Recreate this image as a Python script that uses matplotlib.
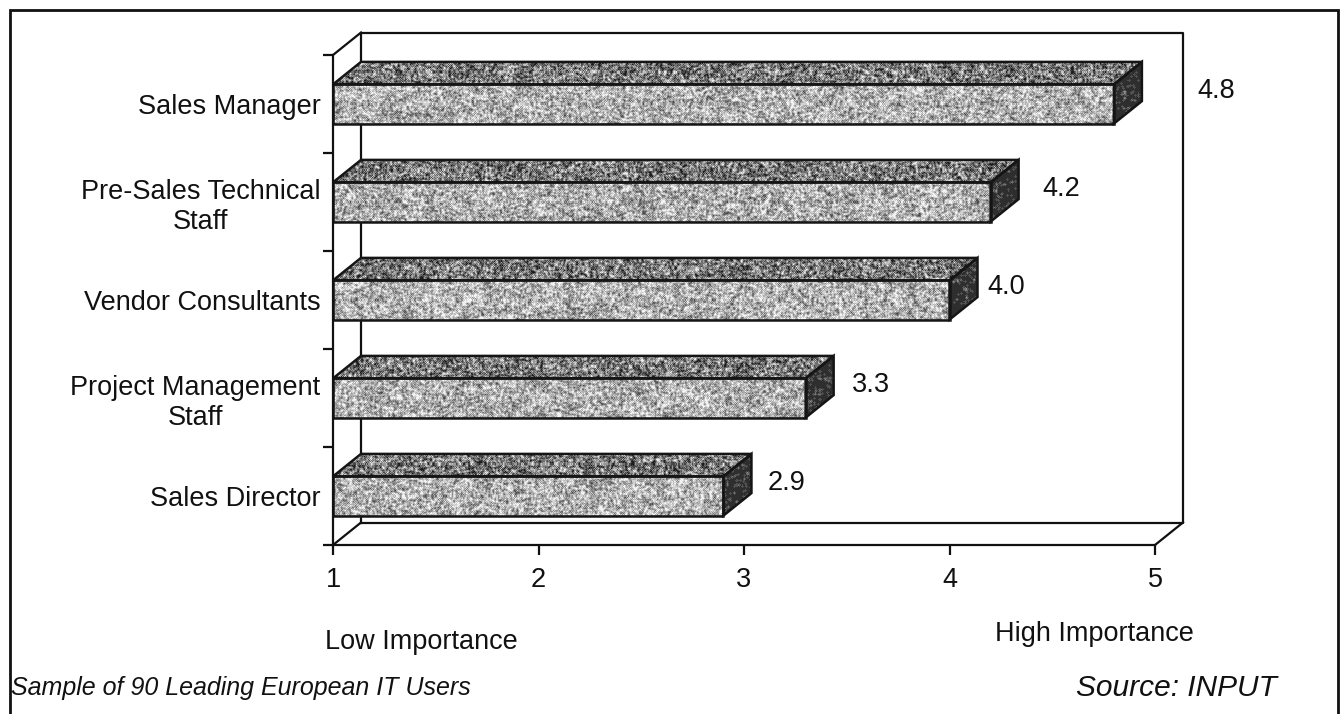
import numpy as np
import matplotlib
matplotlib.use("Agg")
import matplotlib.pyplot as plt
import matplotlib.transforms as mtransforms
from matplotlib.patches import Polygon, Rectangle
from matplotlib.lines import Line2D

# ---- data -------------------------------------------------------------
categories = [
    "Sales Director",
    "Project Management\nStaff",
    "Vendor Consultants",
    "Pre-Sales Technical\nStaff",
    "Sales Manager",
]
scores = [2.9, 3.3, 4.0, 4.2, 4.8]
x_ticks = [1, 2, 3, 4, 5]
low_label = "Low Importance"
high_label = "High Importance"
footnote = "Sample of 90 Leading European IT Users"
source = "Source: INPUT"

# ---- style ------------------------------------------------------------
W, H = 1342, 714
FONT = "Liberation Sans"
FS = 19.5
plt.rcParams["font.family"] = [FONT, "DejaVu Sans"]

# horizontal pixel offsets of the value labels from the bar front edge
label_pad_px = [44, 46, 38, 52, 83]


def fx(x):
    return x / W


def fy(y):
    return 1 - y / H


fig = plt.figure(figsize=(W / 100, H / 100), dpi=100)
fig.patch.set_facecolor("white")

# outer frame
fig.add_artist(Rectangle((fx(10), -0.01), fx(1338) - fx(10), fy(10) + 0.01,
                         transform=fig.transFigure, fill=False,
                         edgecolor="#111111", linewidth=2.0))

# front plane of the 3-D plot box
ax = fig.add_axes([fx(333), fy(545), (1155 - 333) / W, (545 - 55) / H])
ax.set_xlim(1, 5)
ax.set_ylim(0, 5)
ax.set_facecolor("none")

# depth of the plot box in data units
DX = 28 / 822 * 4
DY = 22.5 / 490 * 5
HALF = 0.2  # half height of a bar

rng = np.random.default_rng(7)


def smooth(a):
    out = a.copy()
    out[1:, :] += a[:-1, :]
    out[:, 1:] += a[:, :-1]
    out[:-1, :] += a[1:, :]
    out[:, :-1] += a[:, 1:]
    return out / 5.0


def stipple(rows, cols, darkness, lo, hi, blotch=0.12):
    coarse = rng.random((rows // 6 + 2, cols // 10 + 2))
    coarse = np.kron(coarse, np.ones((6, 10)))[:rows, :cols]
    coarse = smooth(smooth(coarse))
    p = darkness + blotch * (coarse - 0.5)
    dots = (rng.random((rows, cols)) > p).astype(float)
    img = lo + (hi - lo) * dots
    return smooth(img)


def textured(poly_xy, x0, x1, y0, y1, darkness, lo, hi, blotch=0.12):
    cols = max(int((x1 - x0) / 4 * 822), 4)
    rows = max(int((y1 - y0) / 5 * 490), 4)
    img = stipple(rows, cols, darkness, lo, hi, blotch)
    im = ax.imshow(img, extent=(x0, x1, y0, y1), origin="lower",
                   cmap="gray", vmin=0, vmax=1, aspect="auto",
                   interpolation="nearest", zorder=3)
    clip = Polygon(poly_xy, closed=True, transform=ax.transData)
    im.set_clip_path(clip)
    ax.add_patch(Polygon(poly_xy, closed=True, fill=False,
                         edgecolor="#151515", linewidth=1.8,
                         joinstyle="miter", zorder=4))


# box walls and floor
wall_kw = dict(color="#111111", linewidth=1.6, clip_on=False, zorder=1)
bx0, bx1 = 1 + DX, 5 + DX
by0, by1 = DY, 5 + DY
ax.add_line(Line2D([bx0, bx1, bx1, bx0, bx0], [by0, by0, by1, by1, by0], **wall_kw))
ax.add_line(Line2D([1, bx0], [0, by0], **wall_kw))
ax.add_line(Line2D([5, bx1], [0, by0], **wall_kw))
ax.add_line(Line2D([1, bx0], [5, by1], **wall_kw))

# bars
centers = np.arange(len(categories)) + 0.5
for c, v, pad in zip(centers, scores, label_pad_px):
    yb, yt = c - HALF, c + HALF
    front = [(1, yb), (v, yb), (v, yt), (1, yt)]
    top = [(1, yt), (v, yt), (v + DX, yt + DY), (1 + DX, yt + DY)]
    side = [(v, yb), (v + DX, yb + DY), (v + DX, yt + DY), (v, yt)]
    textured(top, 1, v + DX, yt, yt + DY, 0.55, 0.12, 0.92, 0.15)
    textured(side, v, v + DX, yb, yt + DY, 0.93, 0.18, 0.85, 0.05)
    textured(front, 1, v, yb, yt, 0.40, 0.30, 0.95, 0.25)
    shift = mtransforms.ScaledTranslation(pad / 100, 13 / 100, fig.dpi_scale_trans)
    ax.text(v, c, f"{v:.1f}", transform=ax.transData + shift, fontsize=FS,
            ha="left", va="center", color="#111111", zorder=6)

# axes lines and ticks
for side_name in ("top", "right"):
    ax.spines[side_name].set_visible(False)
for side_name in ("left", "bottom"):
    ax.spines[side_name].set_linewidth(1.6)
    ax.spines[side_name].set_color("#111111")
    ax.spines[side_name].set_zorder(5)

ax.set_xticks(x_ticks)
ax.set_xticklabels([str(t) for t in x_ticks])
ax.tick_params(axis="x", direction="out", length=7, width=1.6,
               pad=9, labelsize=FS, colors="#111111")

ax.set_yticks(np.arange(len(categories) + 1))
ax.set_yticklabels([])
ax.tick_params(axis="y", which="major", direction="out", length=7, width=1.6,
               colors="#111111")
ax.set_yticks(centers, minor=True)
ax.set_yticklabels(categories, minor=True)
ax.tick_params(axis="y", which="minor", length=0, pad=9, labelsize=FS,
               colors="#111111")
for lbl in ax.get_yticklabels(minor=True):
    lbl.set_multialignment("center")
    lbl.set_linespacing(1.2)

# captions
fig.text(fx(325), fy(642), low_label, fontsize=FS, ha="left", va="center",
         color="#111111")
fig.text(fx(995), fy(634), high_label, fontsize=FS, ha="left", va="center",
         color="#111111")
fig.text(fx(11), fy(688), footnote, fontsize=18, ha="left", va="center",
         style="italic", color="#111111")
fig.text(fx(1277), fy(688), source, fontsize=21.5, ha="right", va="center",
         style="italic", color="#111111")

fig.savefig("out.png", dpi=100, facecolor="white")
